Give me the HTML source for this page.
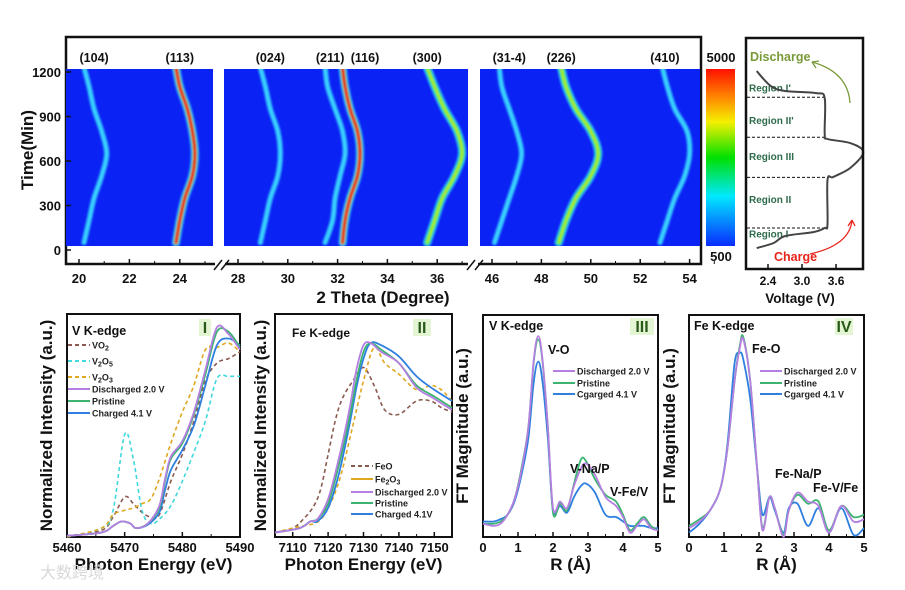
<!DOCTYPE html>
<html><head><meta charset="utf-8">
<style>
html,body{margin:0;padding:0;background:#fff;}
svg{display:block;font-family:"Liberation Sans","Noto Sans CJK SC",sans-serif;}
.t{font-weight:bold;font-size:13px;fill:#111;}
.ti{font-weight:bold;font-size:17px;fill:#111;}
.lg{font-weight:bold;font-size:9px;fill:#222;}
.lb{font-weight:bold;font-size:12.5px;fill:#111;}
</style></head>
<body>
<svg id="fig" width="905" height="590" viewBox="0 0 905 590" xmlns="http://www.w3.org/2000/svg">
<defs>
<filter id="blur" filterUnits="userSpaceOnUse" x="0" y="0" width="905" height="590"><feGaussianBlur stdDeviation="1.0"/></filter>
<linearGradient id="cbar" x1="0" y1="1" x2="0" y2="0">
<stop offset="0" stop-color="#0a2cff"/><stop offset="0.28" stop-color="#00e8ff"/><stop offset="0.5" stop-color="#00e000"/><stop offset="0.7" stop-color="#f4f000"/><stop offset="0.85" stop-color="#ff8000"/><stop offset="1" stop-color="#ff1000"/></linearGradient>
<clipPath id="cb1"><rect x="66" y="69" width="147" height="177"/></clipPath>
<clipPath id="cb2"><rect x="224" y="69" width="244" height="177"/></clipPath>
<clipPath id="cb3"><rect x="480" y="69" width="220" height="177"/></clipPath>
</defs>
<g id="root"></g>
</svg>
<script>
// ---------------- DATA ----------------
const peakTimes = [50, 200, 350, 500, 650, 800, 950, 1100, 1230];
const peak104 = [20.2, 20.4, 20.6, 20.9, 21.1, 20.9, 20.6, 20.4, 20.2];
const peak113 = [23.85, 24.0, 24.2, 24.5, 24.6, 24.5, 24.3, 24.0, 23.85];
const peak024 = [28.9, 29.1, 29.3, 29.6, 29.7, 29.6, 29.3, 29.1, 28.9];
const peak211 = [31.5, 31.8, 31.9, 32.1, 32.3, 32.2, 31.9, 31.6, 31.5];
const peak116 = [32.2, 32.3, 32.5, 32.8, 32.9, 32.8, 32.5, 32.3, 32.2];
const peak300 = [35.6, 35.9, 36.2, 36.7, 37.0, 36.8, 36.3, 35.9, 35.6];
const peak314 = [46.1, 46.4, 46.7, 47.0, 47.2, 47.0, 46.7, 46.4, 46.3];
const peak226 = [48.7, 49.0, 49.4, 50.0, 50.3, 50.0, 49.4, 49.0, 48.8];
const peak410 = [52.8, 53.1, 53.4, 53.8, 54.0, 53.9, 53.4, 53.1, 52.9];
const peakLevels = [1, 3, 1, 1, 3, 2, 1, 2, 1];
const peakNames = ["(104)","(113)","(024)","(211)","(116)","(300)","(31-4)","(226)","(410)"];
const peakLabelX = [20.6, 24.0, 29.3, 31.7, 33.1, 35.6, 46.7, 48.8, 53.0];
const timeTicks = [0, 300, 600, 900, 1200];
const seg1Ticks = [20, 22, 24];
const seg2Ticks = [28, 30, 32, 34, 36];
const seg3Ticks = [46, 48, 50, 52, 54];
const vpV = [2.2, 2.5, 2.7, 3.2, 3.4, 3.45, 3.45, 3.55, 3.85, 4.08, 3.85, 3.45, 3.4, 3.4, 3.25, 2.7, 2.45, 2.2];
const vpT = [13, 47, 94, 121, 148, 175, 472, 492, 553, 660, 721, 748, 782, 1024, 1058, 1072, 1105, 1206];
const regionBounds = [148, 490, 760, 1030];
const regionNames = ["Region I","Region II","Region III","Region II'","Region I'"];
const regionLabelT = [110, 345, 635, 875, 1095];
const voltTicks = [2.4, 3.0, 3.6];
const eV = [5460,5466,5468,5469.5,5471,5472,5474,5476,5477,5478,5480,5482,5484,5486,5488,5490];
const vDis = [0.005,0.02,0.05,0.07,0.06,0.04,0.06,0.14,0.26,0.36,0.43,0.56,0.75,0.94,0.91,0.84];
const vPri = [0.005,0.02,0.05,0.07,0.06,0.04,0.06,0.13,0.25,0.35,0.42,0.55,0.73,0.92,0.92,0.85];
const vCha = [0.005,0.02,0.05,0.07,0.06,0.04,0.055,0.11,0.21,0.30,0.39,0.50,0.68,0.86,0.89,0.86];
const eRef = [5460,5466,5468,5470,5471.5,5473,5474.5,5476,5478,5480,5482,5484,5486,5488,5490];
const vVO2 = [0.005,0.03,0.09,0.18,0.15,0.11,0.09,0.10,0.25,0.37,0.52,0.70,0.78,0.80,0.83];
const vV2O5 = [0.0,0.04,0.12,0.46,0.35,0.12,0.06,0.08,0.14,0.25,0.38,0.52,0.71,0.72,0.72];
const vV2O3 = [0.0,0.04,0.10,0.12,0.13,0.15,0.17,0.26,0.42,0.56,0.68,0.84,0.85,0.87,0.83];
const vTicks = [5460,5470,5480,5490];
const eFe = [7105,7112,7115,7117,7120,7123,7126,7128,7130,7132,7135,7140,7145,7150,7155];
const feDis = [0.02,0.04,0.07,0.08,0.17,0.35,0.57,0.75,0.86,0.87,0.83,0.78,0.67,0.62,0.57];
const fePri = [0.02,0.04,0.07,0.08,0.15,0.32,0.53,0.70,0.83,0.87,0.84,0.78,0.68,0.63,0.58];
const feCha = [0.02,0.04,0.07,0.07,0.13,0.28,0.50,0.67,0.80,0.87,0.86,0.81,0.72,0.66,0.61];
const eFeRef = [7105,7110,7113,7116,7118,7120,7122,7124,7127,7130,7133,7136,7140,7145,7149,7152,7155];
const feFeO = [0.02,0.04,0.08,0.14,0.22,0.37,0.52,0.62,0.70,0.76,0.68,0.57,0.55,0.61,0.61,0.58,0.56];
const feFe2O3 = [0.02,0.04,0.05,0.06,0.08,0.13,0.20,0.30,0.50,0.70,0.85,0.78,0.73,0.66,0.68,0.66,0.61];
const feTicks = [7110,7120,7130,7140,7150];
const rV = [0,0.3,0.5,0.7,0.9,1.1,1.3,1.45,1.58,1.7,1.85,2.0,2.2,2.4,2.6,2.8,2.95,3.2,3.5,3.8,4.0,4.2,4.4,4.6,4.8,5.0];
const ftVDis = [0.06,0.05,0.06,0.10,0.17,0.30,0.50,0.80,0.905,0.80,0.50,0.13,0.16,0.13,0.23,0.31,0.33,0.28,0.18,0.14,0.09,0.02,0.05,0.08,0.04,0.03];
const ftVPri = [0.06,0.06,0.07,0.10,0.17,0.31,0.50,0.79,0.89,0.79,0.50,0.11,0.15,0.12,0.24,0.35,0.34,0.26,0.19,0.16,0.10,0.03,0.06,0.09,0.05,0.03];
const ftVCha = [0.07,0.07,0.08,0.10,0.16,0.28,0.45,0.70,0.79,0.70,0.45,0.12,0.14,0.11,0.18,0.23,0.24,0.20,0.10,0.09,0.07,0.05,0.05,0.05,0.04,0.04];
const rFe = [0,0.3,0.6,0.9,1.1,1.3,1.45,1.55,1.75,1.95,2.1,2.3,2.45,2.7,2.85,3.1,3.4,3.7,4.0,4.35,4.7,5.0];
const ftFeDis = [0.04,0.07,0.12,0.22,0.40,0.70,0.85,0.89,0.70,0.30,0.03,0.18,0.13,0.00,0.12,0.20,0.16,0.14,0.02,0.14,0.07,0.08];
const ftFePri = [0.05,0.08,0.12,0.22,0.40,0.70,0.86,0.90,0.70,0.30,0.04,0.18,0.13,0.01,0.12,0.19,0.15,0.16,0.03,0.14,0.09,0.10];
const ftFeCha = [0.02,0.06,0.12,0.22,0.42,0.78,0.83,0.80,0.62,0.30,0.10,0.18,0.12,0.02,0.13,0.15,0.05,0.13,0.02,0.13,0.01,0.04];
const rTicks = [0,1,2,3,4,5];

// ---------------- DRAW ----------------
const NS = "http://www.w3.org/2000/svg";
const root = document.getElementById("root");
function mk(tag, attrs, parent, text){
  const e = document.createElementNS(NS, tag);
  for (const k in attrs) e.setAttribute(k, attrs[k]);
  if (text !== undefined) e.textContent = text;
  (parent || root).appendChild(e);
  return e;
}
function smoothPath(xs, ys, sx, sy){
  const P = xs.map((x,i)=>[sx(x), sy(ys[i])]);
  let d = "M" + P[0][0].toFixed(1) + " " + P[0][1].toFixed(1);
  for (let i=0;i<P.length-1;i++){
    const p0 = P[i-1]||P[i], p1=P[i], p2=P[i+1], p3=P[i+2]||P[i+1];
    const c1=[p1[0]+(p2[0]-p0[0])/6, p1[1]+(p2[1]-p0[1])/6];
    const c2=[p2[0]-(p3[0]-p1[0])/6, p2[1]-(p3[1]-p1[1])/6];
    d += " C"+c1[0].toFixed(1)+" "+c1[1].toFixed(1)+" "+c2[0].toFixed(1)+" "+c2[1].toFixed(1)+" "+p2[0].toFixed(1)+" "+p2[1].toFixed(1);
  }
  return d;
}

// ===== Top heatmap =====
const ty = t => 250 - t * 178 / 1200;
function tx(d){
  if (d < 26) return 79 + (d - 20) * 25.2;
  if (d < 40) return 238 + (d - 28) * 24.9;
  return 492 + (d - 46) * 24.7;
}
const hm = mk("g", {});


mk("rect", {x:66,y:37,width:635,height:227,fill:"none",stroke:"#111","stroke-width":2.5}, hm);
const blocks = [[66,213],[224,468],[480,700]];
blocks.forEach((b,i)=>{
  const r = mk("rect",{x:b[0],y:69,width:b[1]-b[0],height:177,fill:"#0a22f4"}, hm);
  
  
});
const peaks = [peak104,peak113,peak024,peak211,peak116,peak300,peak314,peak226,peak410];
peaks.forEach((pk,i)=>{
  const clip = pk[0] < 26 ? "cb1" : (pk[0] < 40 ? "cb2" : "cb3");
  const cg = mk("g",{"clip-path":"url(#"+clip+")"}, hm);
  const g = mk("g",{filter:"url(#blur)"}, cg);
  
  
  const d = smoothPath(pk, peakTimes, tx, ty);
  const lv = peakLevels[i];
  mk("path",{d:d,fill:"none",stroke:"#38d0ff","stroke-width":lv===1?5:8,"stroke-linecap":"round"}, g);
  if (lv>=2){ mk("path",{d:d,fill:"none",stroke:"#10e050","stroke-width":5,"stroke-linecap":"round"}, g); }
  if (lv>=2){ mk("path",{d:d,fill:"none",stroke:"#c8f000","stroke-width":2,"stroke-linecap":"round"}, g); }
  if (lv>=3){ mk("path",{d:d,fill:"none",stroke:"#f00000","stroke-width":3.5,"stroke-linecap":"round"}, g); }
  const lb = mk("text",{x:tx(peakLabelX[i]),y:62,"text-anchor":"middle",class:"lb"}, hm, peakNames[i]);
  
  
});
timeTicks.forEach(t=>{
  mk("line",{x1:66,x2:71,y1:ty(t),y2:ty(t),stroke:"#111","stroke-width":1.5}, hm);
  const l = mk("text",{x:61,y:ty(t)+5,"text-anchor":"end",class:"t"}, hm, String(t));
  
  
});
const ytl = mk("text",{x:0,y:0,transform:"translate(33,150) rotate(-90)","text-anchor":"middle",class:"ti"}, hm, "Time(Min)");


[seg1Ticks,seg2Ticks,seg3Ticks].forEach(arr=>arr.forEach(d=>{
  mk("line",{x1:tx(d),x2:tx(d),y1:264,y2:259,stroke:"#111","stroke-width":1.5}, hm);
  mk("line",{x1:tx(d+1),x2:tx(d+1),y1:264,y2:261,stroke:"#111","stroke-width":1}, hm);
  const l = mk("text",{x:tx(d),y:283,"text-anchor":"middle",class:"t"}, hm, String(d));
  
  
}));
[[217,222],[470,476]].forEach(p=>{
  mk("rect",{x:p[0]-2,y:258,width:10,height:10,fill:"#fff"}, hm);
  mk("line",{x1:p[0]-3,y1:270,x2:p[0]+5,y2:260,stroke:"#111","stroke-width":1.5}, hm);
  mk("line",{x1:p[1]-1,y1:270,x2:p[1]+7,y2:260,stroke:"#111","stroke-width":1.5}, hm);
});
const xtl = mk("text",{x:383,y:303,"text-anchor":"middle",class:"ti"}, hm, "2 Theta (Degree)");


const cb = mk("rect",{x:706,y:69,width:29,height:177,fill:"url(#cbar)"});


mk("text",{x:721,y:62,"text-anchor":"middle",class:"t"}, root, "5000");
mk("text",{x:721,y:261,"text-anchor":"middle",class:"t"}, root, "500");

// ===== Voltage panel =====
const vx = v => 768 + (v - 2.4) * 56.7;
const vp = mk("g",{});


regionBounds.forEach(t=>{
  mk("line",{x1:747,x2:826,y1:ty(t),y2:ty(t),stroke:"#111","stroke-width":1,"stroke-dasharray":"3,2"}, vp);
});
regionNames.forEach((n,i)=>{
  const l = mk("text",{x:749,y:ty(regionLabelT[i])+4,style:"font-size:10px;font-weight:bold;fill:#2e6b4a"}, vp, n);
  
  
});
const vc = mk("path",{d:smoothPath(vpV, vpT, vx, ty),fill:"none",stroke:"#444","stroke-width":2}, vp);


mk("rect",{x:746,y:38,width:117,height:231,fill:"none",stroke:"#111","stroke-width":2.5}, vp);
voltTicks.forEach(v=>{
  mk("line",{x1:vx(v),x2:vx(v),y1:269,y2:264,stroke:"#111","stroke-width":1.5}, vp);
  mk("text",{x:vx(v),y:285,"text-anchor":"middle",class:"t",style:"font-size:12px"}, vp, v.toFixed(1));
});
mk("text",{x:800,y:303,"text-anchor":"middle",class:"lb",style:"font-size:13.5px"}, vp, "Voltage (V)");
mk("text",{x:750,y:61,style:"font-size:12.5px;font-weight:bold;fill:#7a9a3a"}, vp, "Discharge");
mk("text",{x:774,y:261,style:"font-size:12.5px;font-weight:bold;fill:#e8241c"}, vp, "Charge");
mk("path",{d:"M850 103 Q848 72 812 62",fill:"none",stroke:"#7a9a3a","stroke-width":1.3}, vp);
mk("path",{d:"M812 62 l7 -1 M812 62 l4 6",fill:"none",stroke:"#7a9a3a","stroke-width":1.3}, vp);
mk("path",{d:"M810 254 Q850 245 852 220",fill:"none",stroke:"#e8241c","stroke-width":1.3}, vp);
mk("path",{d:"M852 220 l-4 6 M852 220 l3 6",fill:"none",stroke:"#e8241c","stroke-width":1.3}, vp);

// ===== generic bottom panel =====
function panel(name, x0, x1, y0, y1, dmin, dmax, ticks, minor, ytitle, ytx, xtitle){
  const g = mk("g",{});
  
  
  const sx = d => x0 + (d - dmin) / (dmax - dmin) * (x1 - x0);
  const sy = v => y1 - v * (y1 - y0);
  mk("rect",{x:x0,y:y0,width:x1-x0,height:y1-y0,fill:"none",stroke:"#111","stroke-width":2}, g);
  ticks.forEach(d=>{
    mk("line",{x1:sx(d),x2:sx(d),y1:y1,y2:y1-5,stroke:"#111","stroke-width":1.5}, g);
    const l = mk("text",{x:sx(d),y:y1+15,"text-anchor":"middle",class:"t"}, g, String(d));
    
    
  });
  minor.forEach(d=> mk("line",{x1:sx(d),x2:sx(d),y1:y1,y2:y1-3,stroke:"#111","stroke-width":1}, g));
  const yt = mk("text",{x:0,y:0,transform:"translate("+ytx+","+((y0+y1)/2)+") rotate(-90)","text-anchor":"middle",class:"ti"}, g, ytitle);
  
  
  const xt = mk("text",{x:(x0+x1)/2,y:y1+33,"text-anchor":"middle",class:"ti"}, g, xtitle);
  
  
  return {g, sx, sy};
}
function series(P, xs, ys, color, dashed, name){
  const p = mk("path",{d:smoothPath(xs, ys, P.sx, P.sy),fill:"none",stroke:color,"stroke-width":dashed?1.6:1.8,"stroke-dasharray":dashed?"4,3":"none"}, P.g);
  
  
}
function legend(P, x, ys, items){
  items.forEach((it,i)=>{
    mk("line",{x1:x,x2:x+22,y1:ys[i],y2:ys[i],stroke:it[1],"stroke-width":2,"stroke-dasharray":it[2]?"4,3":"none"}, P.g);
    const t = mk("text",{x:x+24,y:ys[i]+3.5,class:"lg"}, P.g);
    
    
    t.innerHTML = it[0];
  });
}
function roman(P, x, y, txt){
  const w = txt.length * 6 + 6;
  mk("rect",{x:x-w/2,y:y-14,width:w,height:17,fill:"#e4f5d4"}, P.g);
  mk("text",{x:x,y:y,"text-anchor":"middle",style:"font-size:16px;font-weight:bold;fill:#2a5a1a"}, P.g, txt);
}
const C = {pur:"#b47fe0", grn:"#3cb371", blu:"#2f7fe0", brn:"#8a5a50", cya:"#3fd8dc", org:"#e0a820"};

const p1 = panel("v-xanes-panel", 67, 240, 314, 537, 5460, 5490, vTicks, [5465,5475,5485], "Normalized Intensity (a.u.)", 52, "Photon Energy (eV)");
series(p1, eRef, vVO2, C.brn, true, "vo2-line");
series(p1, eRef, vV2O5, C.cya, true, "v2o5-line");
series(p1, eRef, vV2O3, C.org, true, "v2o3-line");
series(p1, eV, vCha, C.blu, false, "charged-line");
series(p1, eV, vPri, C.grn, false, "pristine-line");
series(p1, eV, vDis, C.pur, false, "discharged-line");
mk("text",{x:72,y:335,style:"font-size:12.5px;font-weight:bold;fill:#111"}, p1.g, "V K-edge");
roman(p1, 205, 333, "I");
legend(p1, 68, [345,361,377,389,401,413], [["VO<tspan font-size='7' dy='2'>2</tspan>",C.brn,1],["V<tspan font-size='7' dy='2'>2</tspan><tspan dy='-2'>O</tspan><tspan font-size='7' dy='2'>5</tspan>",C.cya,1],["V<tspan font-size='7' dy='2'>2</tspan><tspan dy='-2'>O</tspan><tspan font-size='7' dy='2'>3</tspan>",C.org,1],["Discharged 2.0 V",C.pur,0],["Pristine",C.grn,0],["Charged 4.1 V",C.blu,0]]);

const p2 = panel("fe-xanes-panel", 275, 452, 314, 537, 7105, 7155, feTicks, [7115,7125,7135,7145], "Normalized Intensity (a.u.)", 266, "Photon Energy (eV)");
series(p2, eFeRef, feFeO, C.brn, true, "feo-line");
series(p2, eFeRef, feFe2O3, C.org, true, "fe2o3-line");
series(p2, eFe, feCha, C.blu, false, "charged-line");
series(p2, eFe, fePri, C.grn, false, "pristine-line");
series(p2, eFe, feDis, C.pur, false, "discharged-line");
mk("text",{x:292,y:337,style:"font-size:12px;font-weight:bold;fill:#111"}, p2.g, "Fe K-edge");
roman(p2, 422, 333, "II");
legend(p2, 351, [466,479,492,503,514], [["FeO",C.brn,1],["Fe<tspan font-size='7' dy='2'>2</tspan><tspan dy='-2'>O</tspan><tspan font-size='7' dy='2'>3</tspan>",C.org,0],["Discharged 2.0 V",C.pur,0],["Pristine",C.grn,0],["Charged 4.1V",C.blu,0]]);

const p3 = panel("v-exafs-panel", 483, 658, 315, 537, 0, 5, rTicks, [0.5,1.5,2.5,3.5,4.5], "FT Magnitude (a.u.)", 468, "R (Å)");
series(p3, rV, ftVCha, C.blu, false, "charged-line");
series(p3, rV, ftVPri, C.grn, false, "pristine-line");
series(p3, rV, ftVDis, C.pur, false, "discharged-line");
mk("text",{x:489,y:330,style:"font-size:12.5px;font-weight:bold;fill:#111"}, p3.g, "V K-edge");
roman(p3, 642, 332, "III");
mk("text",{x:548,y:354,class:"lb"}, p3.g, "V-O");
mk("text",{x:570,y:473,class:"lb"}, p3.g, "V-Na/P");
mk("text",{x:610,y:496,class:"lb"}, p3.g, "V-Fe/V");
legend(p3, 553, [371,383,394], [["Discharged 2.0 V",C.pur,0],["Pristine",C.grn,0],["Cgarged 4.1 V",C.blu,0]]);

const p4 = panel("fe-exafs-panel", 689, 864, 315, 537, 0, 5, rTicks, [0.5,1.5,2.5,3.5,4.5], "FT Magnitude (a.u.)", 675, "R (Å)");
series(p4, rFe, ftFeCha, C.blu, false, "charged-line");
series(p4, rFe, ftFePri, C.grn, false, "pristine-line");
series(p4, rFe, ftFeDis, C.pur, false, "discharged-line");
mk("text",{x:694,y:330,style:"font-size:12.5px;font-weight:bold;fill:#111"}, p4.g, "Fe K-edge");
roman(p4, 844, 332, "IV");
mk("text",{x:752,y:353,class:"lb"}, p4.g, "Fe-O");
mk("text",{x:775,y:478,class:"lb"}, p4.g, "Fe-Na/P");
mk("text",{x:813,y:492,class:"lb"}, p4.g, "Fe-V/Fe");
legend(p4, 760, [371,383,394], [["Discharged 2.0 V",C.pur,0],["Pristine",C.grn,0],["Cgarged 4.1 V",C.blu,0]]);

const wm = mk("text",{x:40,y:578,style:"font-size:16px;fill:#d8d8d8"}, root, "大数跨境");


</script>
</body></html>
